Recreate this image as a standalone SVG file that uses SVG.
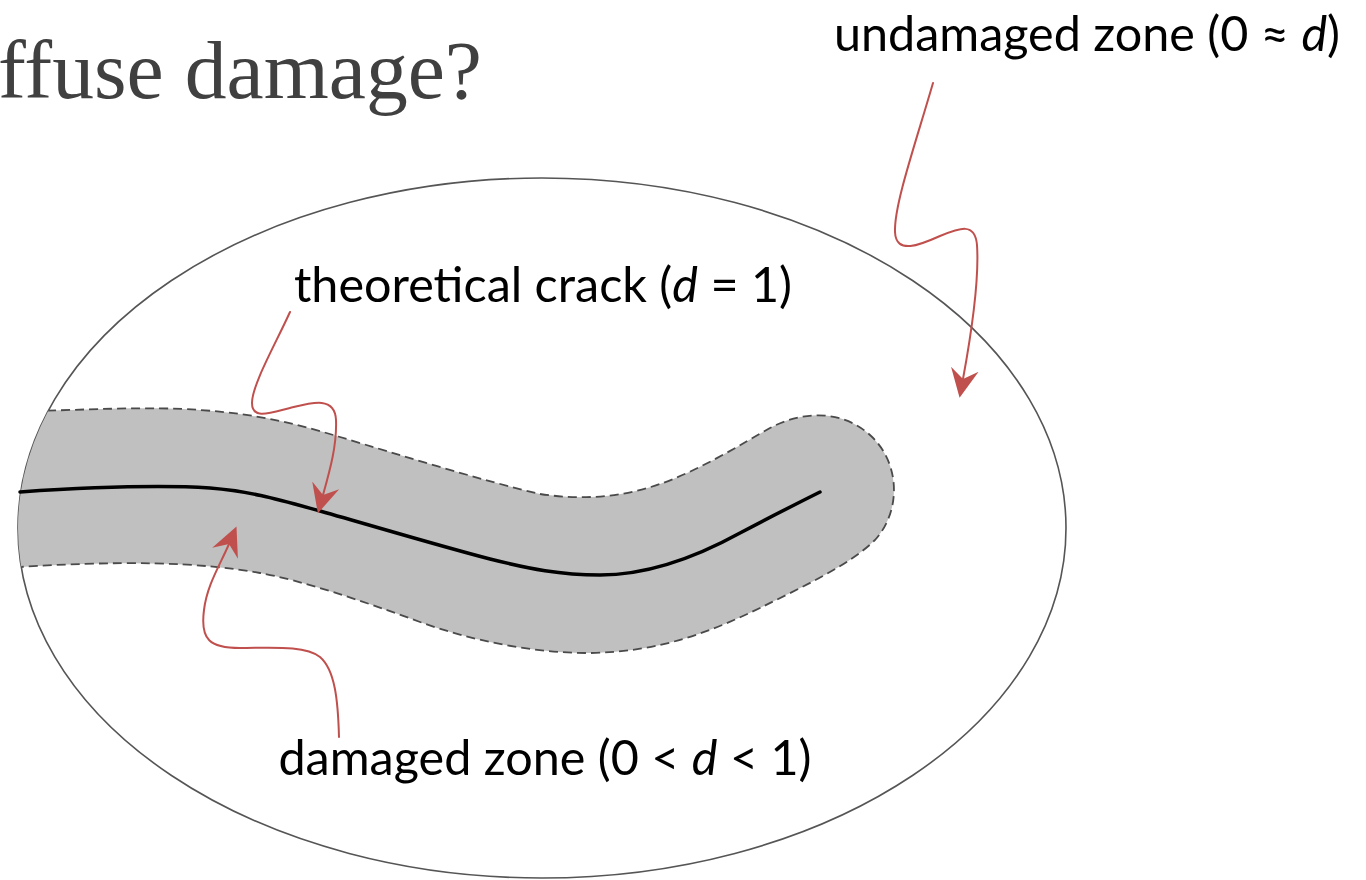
<svg xmlns="http://www.w3.org/2000/svg" width="1366" height="880" viewBox="0 0 1366 880">
  <style>
    .label { font-family: Lato, "Open Sans", "Liberation Sans", sans-serif; font-size: 48.5px; fill: #000; }
    .title { font-family: "Liberation Serif", "DejaVu Serif", serif; font-size: 83px; fill: #404040; }
    .lead { fill: none; stroke: #C0504D; stroke-width: 2; stroke-linecap: round; marker-end: url(#arrow); }
    .it { font-style: italic; }
  </style>
  <defs>
    <marker id="arrow" markerUnits="userSpaceOnUse" viewBox="0 -16 32 32" markerWidth="32" markerHeight="32" refX="10" refY="0" orient="auto">
      <path d="M0,-14 L29,0 L0,14 L10,0 Z" fill="#C0504D"/>
    </marker>
    <clipPath id="ellClip">
      <ellipse cx="542" cy="528" rx="524" ry="350"/>
    </clipPath>
  </defs>
  <rect width="1366" height="880" fill="#fff"/>

  <g id="title">
    <text class="title" x="-2" y="98" textLength="484" lengthAdjust="spacingAndGlyphs">ffuse damage?</text>
  </g>

  <g id="domain">
    <ellipse cx="542" cy="528" rx="524" ry="350" fill="#fff" stroke="#555" stroke-width="1.6"/>
  </g>

  <g id="damaged-band" clip-path="url(#ellClip)">
    <path d="M5,412 C80,410 150,406 200,410 C260,414 300,425 340,437 C400,455 480,480 540,494 C580,500 620,498 660,484 C700,470 740,445 770,428 C800,412 840,408 870,435 C900,462 902,510 875,540 C850,565 800,588 760,608 C710,632 660,652 590,653 C530,653 470,640 420,622 C360,600 300,580 260,573 C200,562 120,560 5,568 Z" fill="#C0C0C0" stroke="#4a4a4a" stroke-width="1.8" stroke-dasharray="9 5"/>
  </g>

  <g id="crack">
    <path d="M20,492 C80,488 160,485 210,488 C250,491 280,500 320,511 C380,528 440,546 490,559 C530,569 560,575 600,575 C650,575 700,555 740,533 C770,517 800,502 820,492" fill="none" stroke="#000" stroke-width="3.5" stroke-linecap="round"/>
  </g>

  <g id="connectors">
    <path class="lead" d="M933,83 C915,145 894,205 895,232 C896,255 920,245 940,236 C960,228 975,222 977,245 C979,275 972,330 963,379"/>
    <path class="lead" d="M290,312 C275,345 252,385 252,403 C252,420 270,413 290,408 C310,403 335,395 336,420 C337,445 330,470 323,495"/>
    <path class="lead" d="M339,737 C338,700 335,670 320,657 C305,645 270,648 240,648 C210,648 200,640 204,610 C207,585 220,565 229,544"/>
  </g>

  <g id="label-undamaged">
    <text class="label" x="1340" y="51" text-anchor="end">undamaged zone (0 ≈ <tspan class="it">d</tspan>)</text>
  </g>
  <g id="label-crack">
    <text class="label" x="543" y="302" text-anchor="middle">theoretical crack (<tspan class="it">d</tspan> = 1)</text>
  </g>
  <g id="label-damaged">
    <text class="label" x="545" y="775" text-anchor="middle">damaged zone (0 &lt; <tspan class="it">d</tspan> &lt; 1)</text>
  </g>
</svg>
